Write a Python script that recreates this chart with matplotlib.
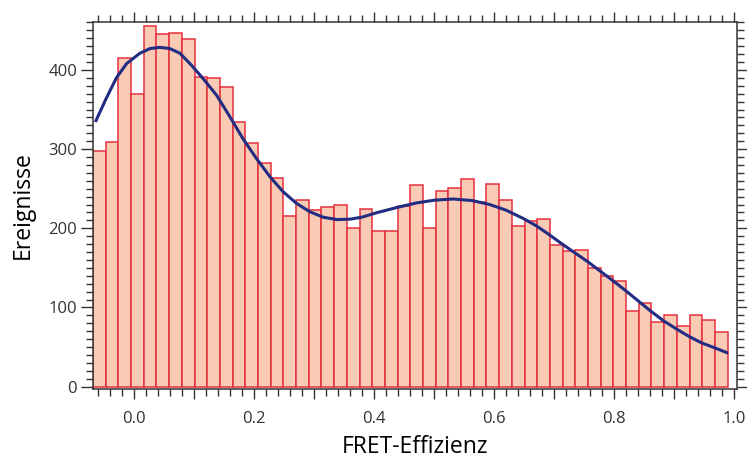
import numpy as np
import matplotlib
matplotlib.use("Agg")
import matplotlib.pyplot as plt
from matplotlib.ticker import MultipleLocator, FuncFormatter

plt.rcParams['font.family'] = ['Open Sans', 'DejaVu Sans']

# Histogram of FRET efficiencies: 50 equal bins
bin_start = -0.068
bin_stop = 0.9895
counts = [298, 309, 415, 370, 456, 445, 447, 439, 391, 390,
          378, 334, 308, 282, 263, 215, 236, 223, 227, 229,
          200, 224, 197, 196, 228, 255, 200, 247, 251, 262,
          233, 256, 236, 203, 209, 212, 179, 171, 172, 150,
          140, 134, 95, 105, 81, 91, 77, 91, 84, 69]

# Fitted distribution (E, events)
fit_E = [-0.063, -0.046, -0.029, -0.012, 0.01, 0.027, 0.043, 0.06, 0.077, 0.096,
         0.1155, 0.138, 0.16, 0.182, 0.2045, 0.227, 0.249, 0.271, 0.293, 0.3155,
         0.338, 0.36, 0.38, 0.404, 0.437, 0.471, 0.501, 0.532, 0.564, 0.593,
         0.62, 0.65, 0.671, 0.693, 0.714, 0.735, 0.756, 0.777, 0.798, 0.82,
         0.841, 0.862, 0.883, 0.905, 0.926, 0.947, 0.968, 0.988]
fit_N = [336, 364, 390, 408, 421, 427, 428.5, 427, 421, 406,
         389, 368, 341, 313, 288, 265, 246, 231.5, 221, 214,
         211, 211.5, 214, 219.5, 226, 232, 235.5, 237, 235, 230,
         223, 212, 203, 191.5, 180, 169, 158, 146, 134, 121,
         108, 95, 83, 72.5, 63, 55, 49, 43]

edges = np.linspace(bin_start, bin_stop, len(counts) + 1)

fig = plt.figure(figsize=(7.47, 4.59), dpi=100)
ax = fig.add_axes([0.1245, 0.1525, 0.862, 0.7995])

ax.hist(edges[:-1], bins=edges, weights=counts, histtype='bar',
        facecolor='#f9cbb4', edgecolor='#e5303d', linewidth=1.1)
ax.plot(fit_E, fit_N, color='#222c82', linewidth=2.2)

ax.set_xlim(-0.068, 1.005)
ax.set_ylim(-3, 460.5)

ax.xaxis.set_major_locator(MultipleLocator(0.1))
ax.xaxis.set_minor_locator(MultipleLocator(0.02))
ax.xaxis.set_major_formatter(FuncFormatter(
    lambda v, p: f"{v:.1f}" if abs(round(v * 10)) % 2 == 0 else ""))
ax.yaxis.set_major_locator(MultipleLocator(100))
ax.yaxis.set_minor_locator(MultipleLocator(10))

for s in ax.spines.values():
    s.set_color('#333333')
    s.set_linewidth(1.1)

ax.tick_params(which='both', direction='out', top=True, right=True,
               color='#333333', width=1.0, labelcolor='#333333', labelsize=12)
ax.tick_params(which='major', length=8.5, pad=3)
ax.tick_params(which='minor', length=5)
ax.tick_params(axis='x', which='major', length=7.5, pad=8)

ax.set_xlabel('FRET-Effizienz', fontsize=16.5)
ax.xaxis.set_label_coords(0.5, -0.174)
ax.xaxis.label.set_va('baseline')
ax.set_ylabel('Ereignisse', fontsize=16.5)
ax.yaxis.set_label_coords(-0.1, 0.5)
ax.yaxis.label.set_va('baseline')

fig.savefig('out.png', dpi=100)
